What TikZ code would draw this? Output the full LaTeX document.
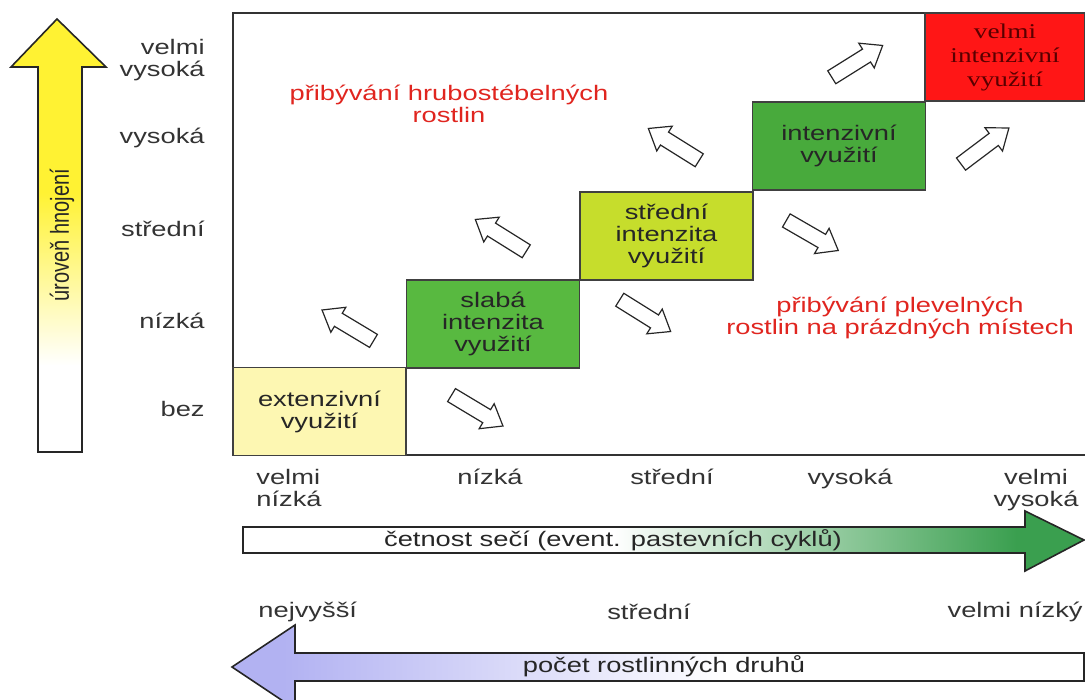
\documentclass[tikz,border=0pt]{standalone}
\usepackage{fontspec}
\setmainfont{Liberation Sans}[FakeStretch=1.3]
\newfontfamily\axisfont{Liberation Sans}
\newfontfamily\boxserif{Liberation Serif}[FakeStretch=1.3]
\usepackage{graphicx}
\usepackage{xcolor}
\usepackage{tikz}
\usetikzlibrary{shapes.arrows}
\definecolor{extyellow}{HTML}{FDF7B2}
\definecolor{lowgreen}{HTML}{58B940}
\definecolor{midlime}{HTML}{C6DD2C}
\definecolor{highgreen}{HTML}{48AA3C}
\definecolor{topred}{HTML}{FF1616}
\definecolor{notered}{HTML}{E0251F}
\definecolor{fertyellow}{HTML}{FFF233}
\definecolor{mowgreen}{HTML}{3A9F4F}
\definecolor{specviolet}{HTML}{B2B2F2}
\pgfdeclareverticalshading{fertshade}{100bp}{color(0bp)=(white); color(35bp)=(white); color(55bp)=(fertyellow); color(100bp)=(fertyellow)}
\pgfdeclarehorizontalshading{mowshade}{100bp}{color(0bp)=(white); color(47bp)=(white); color(71bp)=(mowgreen); color(100bp)=(mowgreen)}
\pgfdeclarehorizontalshading{specshade}{100bp}{color(0bp)=(specviolet); color(28bp)=(specviolet); color(54bp)=(white); color(100bp)=(white)}

\begin{document}
\begin{tikzpicture}[x=0.5pt, y=-0.5pt, font=\fontsize{10.5}{11}\selectfont,
  usebox/.style={draw=black!75, line width=0.7pt, inner sep=0pt, minimum width=86.5pt, minimum height=44pt, align=center, text=black!85},
  scalelab/.style={text=black!80, align=center, inner sep=0pt},
  notelab/.style={text=notered, align=center, inner sep=0pt},
  turnarrow/.style={single arrow, draw=black!85, fill=white, line width=0.6pt, minimum height=30pt, inner sep=3.5pt, single arrow head extend=3.5pt, single arrow tip angle=75}]
\useasboundingbox (0,0) rectangle (1085,700);
% fertilisation axis
\shadedraw[shading=fertshade, draw=black!85, line width=0.8pt] (38,452) -- (38,67) -- (11,67) -- (57,19) -- (106,67) -- (82,67) -- (82,452) -- cycle;
\node[text=black!85, rotate=90, inner sep=0pt] (fertlab) at (62,235) {\axisfont\fontsize{10}{11}\selectfont\scalebox{1}[1.3]{úroveň hnojení}};
\node[scalelab, anchor=east, align=right] (yvh) at (205,60) {velmi\\vysoká};
\node[scalelab, anchor=east] (yh) at (205,138) {vysoká};
\node[scalelab, anchor=east] (ym) at (205,229) {střední};
\node[scalelab, anchor=east] (yl) at (205,321) {nízká};
\node[scalelab, anchor=east] (yn) at (205,409) {bez};
% frame and staircase of use intensities
\draw[black!80, line width=0.8pt] (1085,13) -- (233,13) -- (233,455) -- (1085,455);
\node[usebox, fill=extyellow] (ext) at (319.5,411.5) {extenzivní\\využití};
\node[usebox, fill=lowgreen] (low) at (493,324) {slabá\\intenzita\\využití};
\node[usebox, fill=midlime] (mid) at (666.5,236) {střední\\intenzita\\využití};
\node[usebox, fill=highgreen] (high) at (839,146) {intenzivní\\využití};
\node[usebox, fill=topred, minimum width=80pt, text=red!35!black, font=\boxserif\fontsize{10.5}{12}\selectfont] (top) at (1005,57) {velmi\\intenzivní\\využití};
\node[notelab] (coarse) at (449,104) {přibývání hrubostébelných\\rostlin};
\node[notelab] (weeds) at (900,318) {přibývání plevelných\\rostlin na prázdných místech};
% hollow arrows
\node[turnarrow, rotate=149] (up1) at (352,328) {};
\node[turnarrow, rotate=148] (up2) at (505,238) {};
\node[turnarrow, rotate=148] (up3) at (678,147) {};
\node[turnarrow, rotate=-31] (dn1) at (473,408) {};
\node[turnarrow, rotate=-32] (dn2) at (641,313) {};
\node[turnarrow, rotate=-30] (dn3) at (808,233) {};
\node[turnarrow, rotate=32] (ur1) at (853,64) {};
\node[turnarrow, rotate=37] (ur2) at (981,149) {};
% cutting frequency
\node[scalelab, anchor=north west, align=left] (xvl) at (256,469) {velmi\\nízká};
\node[scalelab, anchor=north] (xl) at (490,469) {nízká};
\node[scalelab, anchor=north] (xm) at (672,469) {střední};
\node[scalelab, anchor=north] (xh) at (850,469) {vysoká};
\node[scalelab, anchor=north] (xvh) at (1036,469) {velmi\\vysoká};
\shadedraw[shading=mowshade, draw=black!85, line width=0.8pt] (243,527) -- (1025,527) -- (1025,511) -- (1084,540) -- (1025,571) -- (1025,553) -- (243,553) -- cycle;
\node[text=black!85, inner sep=0pt] (mowlab) at (613,540) {četnost sečí (event. pastevních cyklů)};
% number of species
\node[scalelab, anchor=west] (sh) at (258,612) {nejvyšší};
\node[scalelab] (sm) at (649,612) {střední};
\node[scalelab, anchor=east] (sl) at (1083,612) {velmi nízký};
\shadedraw[shading=specshade, draw=black!85, line width=0.8pt] (1084,653) -- (295,653) -- (295,625) -- (232,667) -- (295,709) -- (295,681) -- (1084,681) -- cycle;
\node[text=black!85, inner sep=0pt] (speclab) at (664,666) {počet rostlinných druhů};
\end{tikzpicture}
\end{document}
